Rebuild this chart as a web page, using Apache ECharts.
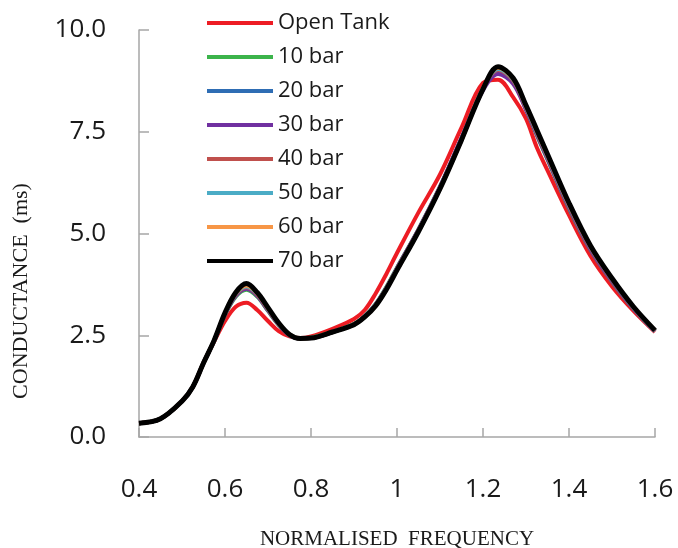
<!DOCTYPE html>
<html>
<head>
<meta charset="utf-8">
<script src="https://cdn.jsdelivr.net/npm/echarts@6/dist/echarts.min.js"></script>
<style>
html,body{margin:0;padding:0;background:#fff;}
#chart{width:678px;height:548px;}
</style>
</head>
<body>
<div id="chart"></div>
<script>
// Normalised frequency (x values)
var freq = [0.4,0.45,0.5,0.525,0.55,0.575,0.6,0.625,0.65,0.675,0.7,0.725,0.75,0.775,0.8,0.85,0.9,0.925,0.95,0.975,1.0,1.05,1.1,1.15,1.2,1.235,1.27,1.3,1.325,1.35,1.4,1.45,1.5,1.55,1.6];

var seriesNames = ['Open Tank','10 bar','20 bar','30 bar','40 bar','50 bar','60 bar','70 bar'];

var openTank = [0.34,0.45,0.88,1.23,1.82,2.35,2.85,3.2,3.3,3.12,2.85,2.6,2.47,2.43,2.47,2.66,2.9,3.12,3.52,4.0,4.52,5.52,6.45,7.6,8.7,8.78,8.35,7.82,7.12,6.55,5.45,4.45,3.7,3.1,2.58];
var bar10 = [0.34,0.45,0.88,1.23,1.82,2.37,3.0,3.45,3.62,3.45,3.1,2.75,2.5,2.42,2.44,2.58,2.78,2.97,3.26,3.68,4.16,5.1,6.15,7.33,8.55,8.97,8.72,8.05,7.42,6.82,5.62,4.6,3.82,3.15,2.6];
var bar20 = [0.34,0.45,0.88,1.23,1.82,2.37,3.02,3.48,3.66,3.48,3.12,2.77,2.51,2.42,2.43,2.58,2.77,2.96,3.25,3.66,4.14,5.08,6.13,7.32,8.56,9.0,8.74,8.07,7.45,6.85,5.65,4.62,3.84,3.16,2.6];
var bar30 = [0.34,0.45,0.88,1.23,1.82,2.37,3.01,3.47,3.64,3.47,3.11,2.76,2.5,2.42,2.43,2.58,2.77,2.96,3.25,3.66,4.15,5.1,6.15,7.35,8.52,8.92,8.68,8.04,7.44,6.84,5.64,4.61,3.83,3.15,2.6];
var bar40 = [0.34,0.45,0.88,1.23,1.82,2.37,3.03,3.5,3.68,3.5,3.14,2.78,2.51,2.42,2.43,2.58,2.77,2.96,3.24,3.65,4.13,5.07,6.12,7.31,8.57,9.02,8.76,8.09,7.48,6.88,5.68,4.65,3.86,3.17,2.61];
var bar50 = [0.34,0.45,0.88,1.23,1.82,2.38,3.04,3.52,3.7,3.52,3.15,2.79,2.52,2.42,2.43,2.58,2.76,2.95,3.23,3.64,4.12,5.06,6.11,7.3,8.56,9.04,8.78,8.11,7.5,6.9,5.7,4.67,3.88,3.18,2.61];
var bar60 = [0.34,0.45,0.88,1.23,1.82,2.38,3.04,3.53,3.72,3.53,3.16,2.79,2.52,2.42,2.43,2.58,2.76,2.95,3.22,3.63,4.11,5.06,6.1,7.3,8.56,9.07,8.8,8.13,7.52,6.92,5.72,4.68,3.89,3.19,2.62];
var bar70 = [0.34,0.45,0.88,1.23,1.82,2.38,3.05,3.55,3.77,3.55,3.18,2.8,2.52,2.42,2.43,2.58,2.76,2.95,3.22,3.62,4.1,5.05,6.1,7.3,8.55,9.1,8.82,8.15,7.55,6.95,5.75,4.7,3.9,3.2,2.62];

var seriesValues = [openTank, bar10, bar20, bar30, bar40, bar50, bar60, bar70];
var seriesColors = ['#ED1C24','#3CB44B','#2E6DB4','#7030A0','#C0504D','#4BACC6','#F79646','#000000'];
var seriesWidths = [4,4,4,4,4,4,4,5];

var xTickLabels = ['0.4','0.6','0.8','1','1.2','1.4','1.6'];
var yTickLabels = ['0.0','2.5','5.0','7.5','10.0'];

var chart = echarts.init(document.getElementById('chart'));

var series = seriesNames.map(function(name, i){
  return {
    name: name,
    type: 'line',
    smooth: 0.35,
    symbol: 'none',
    showSymbol: false,
    lineStyle: {color: seriesColors[i], width: seriesWidths[i]},
    itemStyle: {color: seriesColors[i]},
    data: freq.map(function(f, j){ return [f, seriesValues[i][j]]; }),
    z: 2 + i
  };
});

chart.setOption({
  animation: false,
  backgroundColor: '#ffffff',
  grid: {left: 139, top: 30, width: 516, height: 407, containLabel: false, outerBoundsMode: 'none'},
  legend: {
    orient: 'vertical',
    left: 207,
    top: 11,
    padding: 0,
    icon: 'rect',
    itemWidth: 66,
    itemHeight: 4,
    itemGap: 10,
    data: seriesNames,
    textStyle: {fontFamily: 'Open Sans', fontSize: 22, color: '#1a1a1a', lineHeight: 24}
  },
  xAxis: {
    type: 'value',
    min: 0.4,
    max: 1.6,
    interval: 0.2,
    name: 'NORMALISED  FREQUENCY',
    nameLocation: 'middle',
    nameGap: 92,
    nameTextStyle: {fontFamily: 'Liberation Serif', fontSize: 21, color: '#1a1a1a'},
    axisLine: {lineStyle: {color: '#a6a6a6', width: 1.5}},
    axisTick: {inside: true, length: 9, lineStyle: {color: '#a6a6a6', width: 1.5}},
    splitLine: {show: false},
    axisLabel: {
      margin: 40,
      fontFamily: 'Open Sans',
      fontSize: 26,
      color: '#1a1a1a',
      formatter: function(v){ var i = Math.round((v - 0.4) / 0.2); return xTickLabels[i]; }
    }
  },
  yAxis: {
    type: 'value',
    min: 0,
    max: 10,
    interval: 2.5,
    name: 'CONDUCTANCE  (ms)',
    nameLocation: 'middle',
    nameGap: 107,
    nameTextStyle: {fontFamily: 'Liberation Serif', fontSize: 22, color: '#1a1a1a', padding: [0, 115, 0, 0]},
    axisLine: {show: true, lineStyle: {color: '#a6a6a6', width: 1.5}},
    axisTick: {show: true, inside: true, length: 10, lineStyle: {color: '#a6a6a6', width: 1.5}},
    splitLine: {show: false},
    axisLabel: {
      margin: 33,
      fontFamily: 'Open Sans',
      fontSize: 26,
      color: '#1a1a1a',
      formatter: function(v){ return yTickLabels[Math.round(v / 2.5)]; }
    }
  },
  series: series
});
</script>
</body>
</html>
